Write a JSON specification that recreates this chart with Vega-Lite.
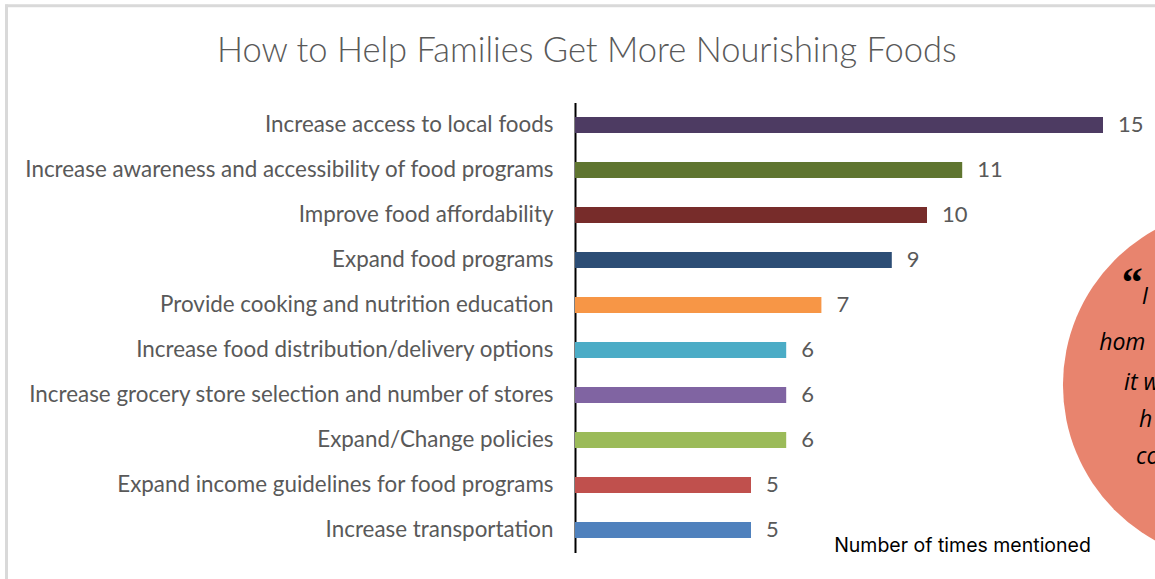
{
  "$schema": "https://vega.github.io/schema/vega-lite/v6.json",
  "autosize": "none",
  "width": 528,
  "height": 450,
  "padding": {"left": 575, "top": 102.5, "right": 52, "bottom": 26.5},
  "background": "white",
  "config": {"view": {"stroke": null}},
  "title": {
    "text": "How to Help Families Get More Nourishing Foods",
    "anchor": "start",
    "frame": "group",
    "dx": -358,
    "offset": -94,
    "baseline": "alphabetic",
    "font": "Lato",
    "fontSize": 34.5,
    "fontWeight": 300,
    "color": "#595959"
  },
  "datasets": {
    "bars": [
      {"label": "Increase access to local foods", "count": 15, "color": "#4D3B62"},
      {"label": "Increase awareness and accessibility of food programs", "count": 11, "color": "#5F7530"},
      {"label": "Improve food affordability", "count": 10, "color": "#772C2A"},
      {"label": "Expand food programs", "count": 9, "color": "#2C4D75"},
      {"label": "Provide cooking and nutrition education", "count": 7, "color": "#F79646"},
      {"label": "Increase food distribution/delivery options", "count": 6, "color": "#4BACC6"},
      {"label": "Increase grocery store selection and number of stores", "count": 6, "color": "#8064A2"},
      {"label": "Expand/Change policies", "count": 6, "color": "#9BBB59"},
      {"label": "Expand income guidelines for food programs", "count": 5, "color": "#C0504D"},
      {"label": "Increase transportation", "count": 5, "color": "#4F81BD"}
    ],
    "quote": [
      {"t": "I", "qx": 16.1, "qy": 4.33},
      {"t": "hom", "qx": 14.89, "qy": 5.34},
      {"t": "it w", "qx": 15.6, "qy": 6.23},
      {"t": "h", "qx": 16.02, "qy": 7.06},
      {"t": "co", "qx": 15.94, "qy": 7.88}
    ]
  },
  "layer": [
    {
      "data": {"values": [{"k": 1}]},
      "mark": {"type": "rule", "color": "#D9D9D9", "strokeWidth": 3},
      "encoding": {
        "x": {"datum": -16.15, "type": "quantitative"},
        "y": {"datum": -2.18, "type": "quantitative", "scale": {"domain": [0, 10], "reverse": true, "nice": false}, "axis": null},
        "y2": {"datum": 12}
      }
    },
    {
      "data": {"values": [{"k": 1}]},
      "mark": {"type": "rule", "color": "#D9D9D9", "strokeWidth": 3},
      "encoding": {
        "x": {"datum": -16.19, "type": "quantitative"},
        "x2": {"datum": 20},
        "y": {"datum": -2.15, "type": "quantitative", "scale": {"domain": [0, 10], "reverse": true, "nice": false}, "axis": null}
      }
    },
    {
      "data": {"name": "bars"},
      "mark": {"type": "bar"},
      "encoding": {
        "y": {
          "field": "label", "type": "nominal", "sort": null,
          "scale": {"paddingInner": 0.64, "paddingOuter": 0.32},
          "axis": {
            "title": null, "ticks": false, "domainColor": "#000000", "domainWidth": 2,
            "labelFont": "Lato", "labelFontSize": 22.4, "labelColor": "#595959",
            "labelPadding": 22, "labelLimit": 700
          }
        },
        "x": {
          "field": "count", "type": "quantitative",
          "scale": {"domain": [0, 15], "nice": false, "zero": true},
          "axis": {
            "title": "Number of times mentioned", "domain": false, "ticks": false, "labels": false, "grid": false,
            "titleX": 387, "titleY": -7, "titleBaseline": "middle", "titleFont": "Inter",
            "titleFontSize": 19.5, "titleFontWeight": "normal", "titleColor": "#000000"
          }
        },
        "color": {"field": "color", "type": "nominal", "scale": null}
      }
    },
    {
      "data": {"name": "bars"},
      "mark": {"type": "text", "align": "left", "dx": 15, "font": "Lato", "fontSize": 22, "color": "#595959", "baseline": "middle"},
      "encoding": {
        "y": {"field": "label", "type": "nominal", "sort": null, "scale": {"paddingInner": 0.64, "paddingOuter": 0.32}, "axis": null},
        "x": {"field": "count", "type": "quantitative"},
        "text": {"field": "count", "type": "quantitative"}
      }
    },
    {
      "data": {"values": [{"k": 1}]},
      "mark": {"type": "point", "filled": true, "shape": "circle", "color": "#E8846E", "opacity": 1, "size": 125300},
      "encoding": {
        "x": {"datum": 18.89, "type": "quantitative"},
        "y": {"datum": 6.28, "type": "quantitative", "scale": {"domain": [0, 10], "reverse": true, "nice": false}, "axis": null}
      }
    },
    {
      "data": {"values": [{"k": 1}]},
      "mark": {"type": "text", "text": "\u201c", "align": "center", "baseline": "alphabetic", "font": "Liberation Serif", "fontWeight": "bold", "fontSize": 42, "color": "#000000"},
      "encoding": {
        "x": {"datum": 15.83, "type": "quantitative"},
        "y": {"datum": 4.3, "type": "quantitative", "scale": {"domain": [0, 10], "reverse": true, "nice": false}, "axis": null}
      }
    },
    {
      "data": {"name": "quote"},
      "mark": {"type": "text", "align": "left", "baseline": "middle", "font": "Open Sans", "fontStyle": "italic", "fontSize": 23, "color": "#000000"},
      "encoding": {
        "x": {"field": "qx", "type": "quantitative"},
        "y": {"field": "qy", "type": "quantitative", "scale": {"domain": [0, 10], "reverse": true, "nice": false}, "axis": null},
        "text": {"field": "t", "type": "nominal"}
      }
    }
  ],
  "resolve": {"scale": {"y": "independent"}}
}
